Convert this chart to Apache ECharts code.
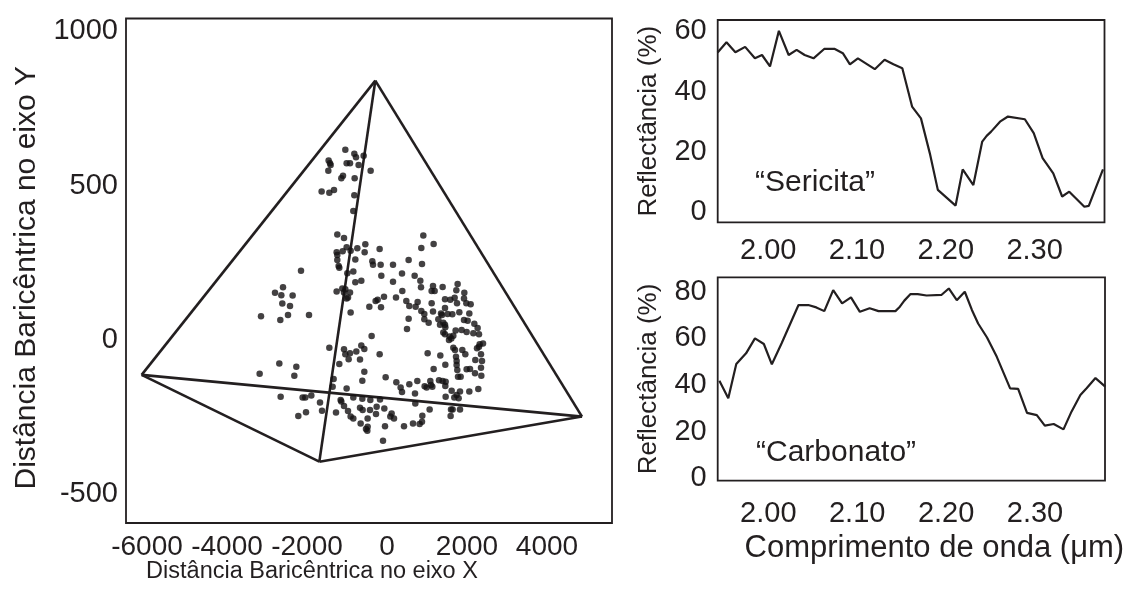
<!DOCTYPE html>
<html>
<head>
<meta charset="utf-8">
<title>Distância baricêntrica e espectros</title>
<script src="https://cdn.jsdelivr.net/npm/echarts@6/dist/echarts.min.js"></script>
<style>
  html, body { margin: 0; padding: 0; background: #fff; }
  #main { width: 1127px; height: 604px; }
</style>
</head>
<body>
<div id="main"></div>
<script>
// 散点：重心距离 (X, Y)
var baryPoints = [
  [-1042,616],[-817,603],[-775,592],[-584,597],[-1459,581],[-1425,572],[-1409,567],[-1009,572],[-925,572],[-709,567],
  [-1467,548],[-409,548],[-1100,532],[-1142,524],[-809,524],[-1634,481],[-1442,477],[-1325,486],[-817,469],[-842,418],
  [-1242,342],[-1075,330],[908,338],[1166,311],[-1009,300],[-909,289],[-742,297],[-542,310],[-184,295],[858,298],
  [-1259,284],[-1109,287],[-1242,275],[-559,284],[-792,261],[-367,255],[-350,244],[-159,244],[150,244],[541,259],
  [875,246],[-1242,259],[-1209,240],[-1192,234],[-842,222],[-992,216],[-142,208],[375,215],[691,208],[833,192],
  [-642,192],[-792,187],[150,189],[-1117,167],[-1042,164],[-1259,157],[-925,154],[-1075,154],[-975,138],[-1009,134],
  [-284,126],[-234,130],[-75,140],[225,138],[383,159],[850,171],[1150,175],[1391,172],[1766,181],[1116,159],
  [1191,159],[1733,161],[1933,153],[-150,106],[-442,108],[483,126],[558,110],[716,108],[766,123],[1116,119],
  [1450,132],[1583,130],[1691,137],[1750,119],[1925,134],[1983,119],[2091,116],[-909,89],[858,94],[933,84],
  [1150,92],[1350,86],[1450,104],[1808,90],[1633,83],[2058,86],[-1950,81],[-3150,77],[-2667,65],[-2475,81],
  [-2425,110],[-2617,118],[-2642,145],[-2800,153],[-2600,171],[-2359,144],[-2150,224],
  [541,69],[500,36],[933,67],[1041,56],[1283,67],[1375,81],[1408,56],[1450,49],[1325,49],[1458,41],
  [1516,84],[1925,65],[2016,62],[2183,53],[2266,39],[1716,31],[1866,32],[1991,26],[2158,22],[2300,19],
  [1408,24],[1450,19],[1566,11],[1608,5],[1658,14],[1550,0],[2316,-14],[2400,-11],[2250,-27],[2300,-22],
  [2350,-46],[2208,-65],[2375,-68],[2350,-90],[1700,-32],[1658,-25],[1883,-32],[1725,-54],[1958,-46],[1741,-68],
  [1741,-81],[1758,-97],[1991,-95],[2075,-94],[1775,-119],[1841,-119],[2200,-108],[2358,-116],[1333,-50],[1458,-80],
  [1166,-94],[1016,-43],[-384,13],[-1442,-25],[-1075,-30],[-1042,-46],[-925,-43],[-767,-37],[-642,-18],[-567,-29],
  [-959,-62],[-675,-63],[-184,-46],[-1192,-78],[-567,-103],[-617,-132],[-34,-121],[-1334,-126],[-1359,-151],[-1009,-157],
  [233,-137],[341,-154],[558,-143],[758,-133],[941,-150],[991,-154],[1083,-133],[1100,-146],[1133,-151],[1300,-130],
  [1391,-133],[1466,-135],[1458,-149],[1616,-164],[1825,-167],[2058,-167],[2283,-159],[700,-173],[375,-168],[1466,-184],
  [1741,-178],[1791,-189],[1683,-186],
  [-3184,-109],[-2692,-76],[-2267,-87],[-2317,-116],
  [-2659,-184],[-2109,-186],[-2042,-186],[-1892,-180],[-1675,-202],[-1625,-229],[-2025,-234],[-2217,-246],[-1275,-235],[-1159,-194],
  [-1142,-199],[-842,-186],[-617,-190],[-417,-194],[-175,-193],[-1075,-214],[-975,-230],[-909,-248],[-842,-254],[-675,-219],
  [-609,-227],[-425,-227],[-484,-254],[-659,-270],[-275,-240],[-259,-216],[-67,-222],[116,-238],[83,-248],[175,-254],
  [-525,-288],[-492,-294],[-484,-281],[-50,-279],[425,-279],[650,-270],[816,-272],[875,-265],[883,-245],[708,-206],
  [1066,-225],[1600,-225],[1641,-225],[1825,-225],[1591,-246],[-100,-326]
];

// 四面体顶点 (上, 左, 下, 右) 与边
var simplexVertices = [[-292, 840], [-6134, -113], [-1692, -394], [4875, -248]];
var simplexEdges = [[0, 1], [0, 3], [0, 2], [1, 3], [1, 2], [2, 3]];

// 刻度
var baryXTicks = [-6000, -4000, -2000, 0, 2000, 4000];
var baryYTicks = [-500, 0, 500, 1000];
var waveTicks = [2.0, 2.1, 2.2, 2.3];
var sericitaTicks = [0, 20, 40, 60];
var carbonatoTicks = [0, 20, 40, 60, 80];

// 光谱：波长 (um) 与反射率 (%)
var sericitaWave = [1.943,1.953,1.963,1.974,1.985,1.993,2.002,2.012,2.023,2.032,2.041,2.051,2.063,2.075,2.084,2.092,2.101,2.120,2.131,2.141,
  2.151,2.162,2.172,2.182,2.191,2.211,2.219,2.231,2.241,2.246,2.251,2.261,2.270,2.289,2.299,2.309,2.321,2.331,2.339,2.356,2.361,2.377];
var sericitaRefl = [52.9,56.3,53.0,54.8,51.0,52.1,48.3,60.1,52.1,53.8,52.1,51.0,54.1,54.1,52.7,49.0,51.0,47.4,50.5,49.0,
  47.7,35.0,31.1,19.5,7.4,2.2,14.2,9.0,23.4,25.3,26.7,30.0,31.7,30.8,26.2,17.9,12.9,5.2,6.8,1.8,2.1,14.2];
var carbonatoWave = [1.945,1.955,1.964,1.975,1.985,1.995,2.004,2.015,2.034,2.045,2.054,2.063,2.073,2.083,2.093,2.103,2.114,2.124,2.143,2.148,
  2.153,2.160,2.168,2.178,2.195,2.203,2.212,2.221,2.229,2.236,2.246,2.257,2.272,2.281,2.291,2.302,2.311,2.321,2.332,2.341,2.351,2.358,2.368,2.379];
var carbonatoRefl = [41.9,34.3,49.0,53.6,60.0,57.6,48.9,57.9,74.3,74.3,73.3,71.7,80.7,75.0,77.6,71.4,72.9,71.7,71.7,73.6,
  76.2,79.0,79.0,78.4,78.7,81.4,76.4,80.0,72.2,66.4,60.4,52.1,38.6,38.4,28.1,27.1,22.6,23.3,21.0,28.6,35.7,38.6,43.0,39.3];

var INK = '#231f20';
var FONT = '"Liberation Sans", Arial, sans-serif';

var zip = function(xs, ys) {
  var out = [];
  for (var i = 0; i < xs.length; i++) out.push([xs[i], ys[i]]);
  return out;
};

var plainFmt = function(v) { return String(v); };
var waveFmt = function(v) { return v.toFixed(2); };

var valueAxis = function(grid, min, max, ticks, opts) {
  var axis = {
    type: 'value',
    gridIndex: grid,
    min: min,
    max: max,
    axisLine: { show: false },
    axisTick: { show: false },
    splitLine: { show: false },
    axisLabel: {
      customValues: ticks,
      hideOverlap: false,
      showMinLabel: true,
      showMaxLabel: true,
      color: INK,
      fontFamily: FONT,
      fontSize: opts.labelSize || 29,
      margin: opts.margin,
      formatter: opts.formatter || plainFmt
    }
  };
  if (opts.name) {
    axis.name = opts.name;
    axis.nameLocation = 'middle';
    axis.nameGap = opts.nameGap;
    axis.nameMoveOverlap = false;
    axis.nameTextStyle = { color: INK, fontFamily: FONT, fontSize: opts.nameSize,
      padding: opts.namePadding || 0 };
  }
  return axis;
};

var gridBox = function(left, top, width, height) {
  return { left: left, top: top, width: width, height: height, show: true,
    borderColor: INK, borderWidth: 1.8, backgroundColor: 'transparent' };
};

var series = [];

// 四面体边线
for (var e = 0; e < simplexEdges.length; e++) {
  series.push({
    type: 'line',
    xAxisIndex: 0,
    yAxisIndex: 0,
    data: [simplexVertices[simplexEdges[e][0]], simplexVertices[simplexEdges[e][1]]],
    symbol: 'none',
    silent: true,
    lineStyle: { color: INK, width: 2.6 },
    z: 3
  });
}

series.push({
  type: 'scatter',
  xAxisIndex: 0,
  yAxisIndex: 0,
  data: baryPoints,
  symbolSize: 6.5,
  itemStyle: { color: '#141213' },
  z: 4
});

series.push({
  type: 'line',
  xAxisIndex: 1,
  yAxisIndex: 1,
  data: zip(sericitaWave, sericitaRefl),
  symbol: 'none',
  lineStyle: { color: INK, width: 2.2 }
});

series.push({
  type: 'line',
  xAxisIndex: 2,
  yAxisIndex: 2,
  data: zip(carbonatoWave, carbonatoRefl),
  symbol: 'none',
  lineStyle: { color: INK, width: 2.2 }
});

var option = {
  backgroundColor: '#fff',
  animation: false,
  grid: [
    gridBox(126, 18.5, 486, 504.5),
    gridBox(717.7, 20, 386.8, 202.3),
    gridBox(717.7, 277.3, 387.3, 203.4)
  ],
  xAxis: [
    valueAxis(0, -6525, 5625, baryXTicks, { margin: 10, labelSize: 28,
      name: 'Distância Baricêntrica no eixo X', nameGap: 37, nameSize: 23.5,
      namePadding: [0, 114, 0, 0] }),
    valueAxis(1, 1.9431, 2.3787, waveTicks, { margin: 14, formatter: waveFmt }),
    valueAxis(2, 1.9431, 2.3787, waveTicks, { margin: 19, formatter: waveFmt,
      name: 'Comprimento de onda (μm)', nameGap: 52, nameSize: 31,
      namePadding: [0, 0, 0, 46] })
  ],
  yAxis: [
    valueAxis(0, -592.6, 1041.1, baryYTicks, { margin: 8,
      name: 'Distância Baricêntrica no eixo Y', nameGap: 84, nameSize: 30,
      namePadding: [0, 14, 0, 0] }),
    valueAxis(1, -3.35, 63.7, sericitaTicks, { margin: 11,
      name: 'Reflectância (%)', nameGap: 56, nameSize: 26 }),
    valueAxis(2, -1.0, 86.2, carbonatoTicks, { margin: 11,
      name: 'Reflectância (%)', nameGap: 56, nameSize: 26 })
  ],
  graphic: [
    { type: 'text', left: 755, top: 168,
      style: { text: '“Sericita”', fill: INK, font: '30px ' + FONT } },
    { type: 'text', left: 756, top: 438,
      style: { text: '“Carbonato”', fill: INK, font: '30px ' + FONT } }
  ],
  series: series
};

var chart = echarts.init(document.getElementById('main'), null, { renderer: 'canvas' });
chart.setOption(option);
</script>
</body>
</html>
